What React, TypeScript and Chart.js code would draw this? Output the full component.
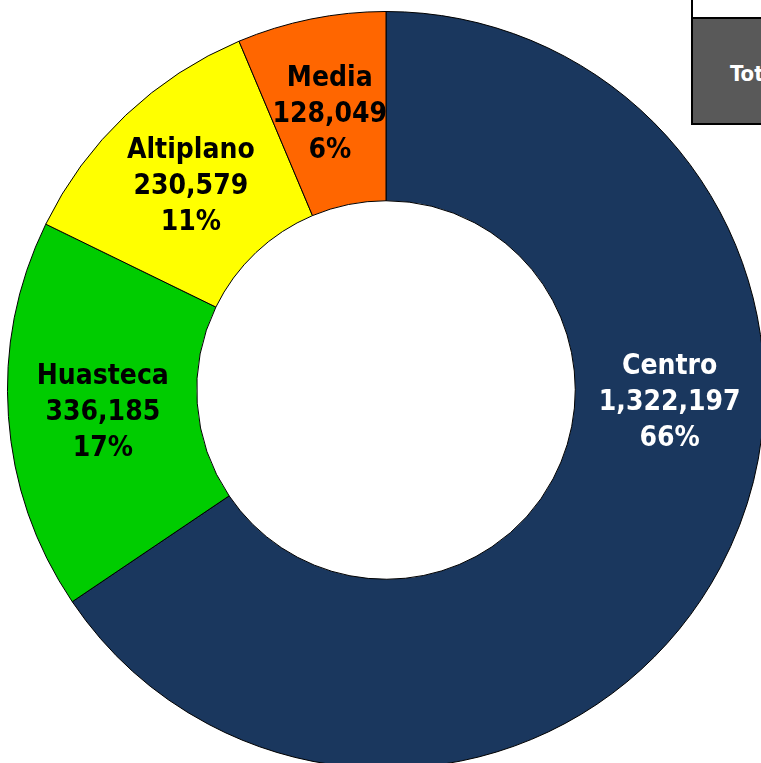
import React, { useEffect, useRef } from "react";
import { Chart, registerables } from "chart.js";

Chart.register(...registerables);

const categories = ["Centro", "Huasteca", "Altiplano", "Media"];
const values = [1322197, 336185, 230579, 128049];
const sliceColors = ["#1A375E", "#00CC00", "#FFFF00", "#FF6600"];
const labelColors = ["#FFFFFF", "#000000", "#000000", "#000000"];
const labelFractions = [0.39, 0.5, 0.5, 0.5];
const tableHeader = "Total";

const FONT = '"DejaVu Sans Condensed", "DejaVu Sans", sans-serif';

const labelPlugin = {
  id: "sliceLabels",
  afterDatasetsDraw(chart: any) {
    const ctx = chart.ctx;
    const meta = chart.getDatasetMeta(0);
    const data = chart.data.datasets[0].data as number[];
    const total = data.reduce((a, b) => a + b, 0);
    ctx.save();
    ctx.font = `bold 28px ${FONT}`;
    ctx.textAlign = "center";
    ctx.textBaseline = "middle";
    meta.data.forEach((arc: any, i: number) => {
      const p = arc.getProps(["x", "y", "startAngle", "endAngle", "innerRadius", "outerRadius"], true);
      const f = labelFractions[i] ?? 0.5;
      const a = p.startAngle + (p.endAngle - p.startAngle) * f;
      const r = (p.innerRadius + p.outerRadius) / 2;
      const cx = p.x + Math.cos(a) * r;
      const cy = p.y + Math.sin(a) * r + 3;
      const lines = [
        chart.data.labels[i],
        data[i].toLocaleString("en-US"),
        Math.round((data[i] / total) * 100) + "%",
      ];
      ctx.fillStyle = labelColors[i];
      const lh = 36;
      lines.forEach((t: string, k: number) => {
        ctx.fillText(t, cx, cy + (k - 1) * lh);
      });
    });
    ctx.restore();
  },
};

export default function App() {
  const ref = useRef<HTMLCanvasElement | null>(null);
  useEffect(() => {
    if (!ref.current) return;
    const chart = new Chart(ref.current, {
      type: "doughnut",
      data: {
        labels: categories,
        datasets: [
          {
            data: values,
            backgroundColor: sliceColors,
            borderColor: "#000000",
            borderWidth: 1,
          },
        ],
      },
      options: {
        responsive: false,
        maintainAspectRatio: false,
        animation: false,
        cutout: "50%",
        layout: { padding: 21 },
        plugins: {
          legend: { display: false },
          tooltip: { enabled: false },
        },
      },
      plugins: [labelPlugin],
    });
    return () => chart.destroy();
  }, []);

  return (
    <div
      style={{
        position: "fixed",
        left: 0,
        top: 0,
        width: 761,
        height: 763,
        overflow: "hidden",
        background: "#FFFFFF",
      }}
    >
      <canvas
        ref={ref}
        width={800}
        height={800}
        style={{ position: "absolute", left: -14, top: -10, width: 800, height: 800 }}
      />
      <div
        style={{
          position: "absolute",
          left: 691,
          top: -40,
          width: 140,
          height: 161,
          border: "2px solid #000",
          background: "#FFFFFF",
        }}
      >
        <div
          style={{
            position: "absolute",
            left: 0,
            top: 55,
            width: "100%",
            height: 2,
            background: "#000",
          }}
        />
        <div
          style={{
            position: "absolute",
            left: 0,
            top: 57,
            width: "100%",
            height: 104,
            background: "#595959",
            color: "#FFFFFF",
            fontFamily: FONT,
            fontWeight: "bold",
            fontSize: 22,
            lineHeight: "110px",
            paddingLeft: 37,
            boxSizing: "border-box",
            whiteSpace: "nowrap",
          }}
        >
          {tableHeader}
        </div>
      </div>
    </div>
  );
}
